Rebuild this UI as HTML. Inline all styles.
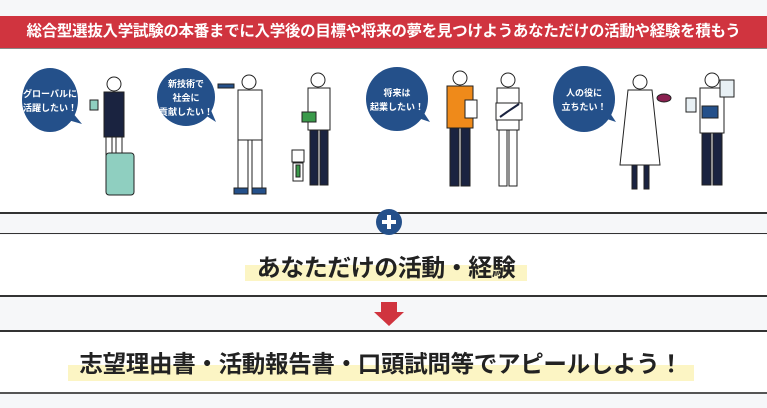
<!DOCTYPE html>
<html><head><meta charset="utf-8"><style>
body{margin:0;width:767px;height:408px;background:#f6f7f9;position:relative;overflow:hidden;font-family:"Liberation Sans","Noto Sans CJK JP",sans-serif}
.abs{position:absolute}
.banner{left:0;top:16px;width:767px;height:32px;background:#d0343f;color:#fff;font-weight:bold;font-size:15.5px;line-height:32px;text-align:center;letter-spacing:-0.3px;border-bottom:1px solid #888}
.white{left:0;width:767px;background:#fff}
.line{left:0;width:767px;height:2px;background:#333}
.hl{background:#fcf5c4}
.t{font-weight:bold;color:#222;text-align:center;white-space:nowrap}
</style></head><body>
<div class="abs banner">総合型選抜入学試験の本番までに入学後の目標や将来の夢を見つけようあなただけの活動や経験を積もう</div>
<div class="abs white" style="top:49px;height:163px"></div>
<div class="abs line" style="top:212px"></div>
<div class="abs line" style="top:233px;height:1px"></div>
<div class="abs white" style="top:235px;height:61px"></div>
<div class="abs line" style="top:295px"></div>
<div class="abs line" style="top:330px"></div>
<div class="abs white" style="top:332px;height:60px"></div>
<div class="abs line" style="top:392px;background:#555"></div>
<div class="abs hl" style="left:245px;top:265px;width:282px;height:16px"></div>
<div class="abs t" style="left:245px;top:248px;width:282px;font-size:24px;letter-spacing:-0.5px">あなただけの活動・経験</div>
<div class="abs hl" style="left:68px;top:365px;width:626px;height:16px"></div>
<div class="abs t" style="left:68px;top:345px;width:626px;font-size:23.5px;letter-spacing:-0.3px">志望理由書・活動報告書・口頭試問等でアピールしよう！</div>
<svg class="abs" style="left:0;top:0" width="767" height="408">
<circle cx="389" cy="222" r="13" fill="#24508a"/>
<rect x="382" y="220" width="14" height="4" fill="#fff"/><rect x="387" y="215" width="4" height="14" fill="#fff"/>
<polygon points="381,302 397,302 397,312 404,312 389,326 374,312 381,312" fill="#d0343f"/>
<g fill="#24508a">
<ellipse cx="50" cy="100" rx="28" ry="32"/><polygon points="68,120 82,124 72,112"/>
<ellipse cx="186" cy="97" rx="29" ry="29"/><polygon points="205,115 216,122 210,108"/>
<ellipse cx="397" cy="99" rx="31" ry="32"/><polygon points="418,118 430,122 422,110"/>
<ellipse cx="584" cy="99" rx="31" ry="33"/><polygon points="604,118 616,122 608,110"/>
</g>
<g fill="#fff" font-weight="bold" font-size="9" text-anchor="middle" font-family="Liberation Sans,Noto Sans CJK JP,sans-serif">
<text x="50" y="97">グローバルに</text><text x="50" y="111">活躍したい！</text>
<text x="186" y="87">新技術で</text><text x="186" y="101">社会に</text><text x="186" y="115">貢献したい！</text>
<text x="397" y="96">将来は</text><text x="397" y="110">起業したい！</text>
<text x="584" y="96">人の役に</text><text x="584" y="110">立ちたい！</text>
</g>
<g stroke="#222" stroke-width="1" fill="#fff">
<circle cx="114" cy="84" r="7"/><rect x="104" y="92" width="20" height="45" fill="#1a2340"/>
<rect x="106" y="137" width="6" height="50"/><rect x="116" y="137" width="6" height="50"/>
<rect x="106" y="153" width="28" height="42" rx="3" fill="#8fcfc0"/>
<rect x="90" y="100" width="8" height="10" fill="#8fcfc0"/>
<circle cx="249" cy="82" r="7"/><rect x="238" y="90" width="24" height="50"/>
<rect x="238" y="140" width="10" height="48"/><rect x="252" y="140" width="10" height="48"/>
<rect x="234" y="188" width="14" height="6" fill="#24508a"/><rect x="252" y="188" width="14" height="6" fill="#24508a"/>
<rect x="218" y="84" width="16" height="4" fill="#24508a"/>
<circle cx="318" cy="80" r="7"/><rect x="308" y="88" width="22" height="42"/>
<rect x="310" y="130" width="8" height="55" fill="#1a2340"/><rect x="320" y="130" width="8" height="55" fill="#1a2340"/>
<rect x="302" y="112" width="14" height="10" fill="#3a9a4a"/>
<rect x="292" y="150" width="12" height="12"/><rect x="293" y="163" width="10" height="18"/><rect x="296" y="165" width="4" height="12" fill="#3a9a4a"/>
<circle cx="460" cy="78" r="7"/><rect x="447" y="86" width="26" height="42" fill="#ef8a1a"/>
<rect x="450" y="128" width="9" height="58" fill="#1a2340"/><rect x="461" y="128" width="9" height="58" fill="#1a2340"/>
<rect x="465" y="100" width="12" height="18"/>
<circle cx="508" cy="80" r="7"/><rect x="497" y="88" width="22" height="42"/>
<rect x="499" y="130" width="8" height="56"/><rect x="509" y="130" width="8" height="56"/>
<rect x="496" y="103" width="26" height="17"/><polyline points="500,117 507,112 513,108 519,104" fill="none" stroke="#1a2340" stroke-width="2"/>
<circle cx="640" cy="82" r="7"/><path d="M628,90 L652,90 L660,165 L620,165 Z"/>
<rect x="632" y="165" width="5" height="24" fill="#1a2340"/><rect x="644" y="165" width="5" height="24" fill="#1a2340"/>
<ellipse cx="664" cy="98" rx="7" ry="4" fill="#8a2050"/>
<circle cx="712" cy="80" r="7" /><rect x="700" y="88" width="24" height="45"/>
<rect x="702" y="133" width="9" height="52" fill="#1a2340"/><rect x="713" y="133" width="9" height="52" fill="#1a2340"/>
<rect x="702" y="106" width="16" height="12" fill="#24508a"/>
<rect x="720" y="80" width="14" height="17" fill="#e8f0f4"/>
<rect x="686" y="98" width="10" height="14" fill="#e8f0f4"/>
</g>
</svg>
</body></html>
